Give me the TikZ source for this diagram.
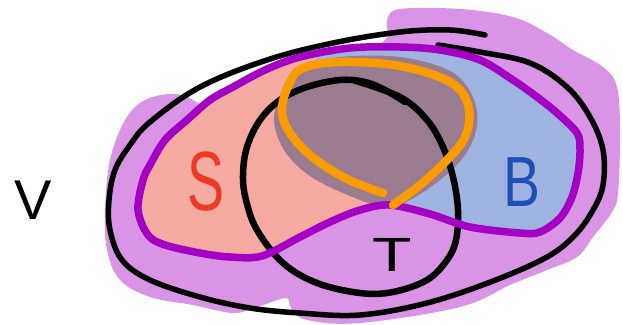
\documentclass[tikz,border=0pt]{standalone}
\usepackage{fontspec}
\setmainfont{Liberation Sans}
\definecolor{lav}{HTML}{D994E6}
\definecolor{salmon}{HTML}{F5AAA2}
\definecolor{bfill}{HTML}{9EB3DF}
\definecolor{mauve}{HTML}{9A7B8F}
\definecolor{pline}{HTML}{A300C4}
\definecolor{oline}{HTML}{F89C00}
\definecolor{sred}{HTML}{EE3A24}
\definecolor{bblue}{HTML}{1F4FB4}
\tikzset{
  ink/.style={line width=5.5pt, line cap=round, line join=round},
  letter/.style={inner sep=0pt, anchor=center},
}
\begin{document}
\begin{tikzpicture}[x=1pt,y=-1pt]
\useasboundingbox (0,0) rectangle (623,324);
% lavender blob
\fill[lav] plot[smooth cycle, tension=0.6] coordinates {
 (385,40) (387,20) (400,9) (460,9) (513,17) (547,33) (573,50) (603,67) (617,87)
 (620,133) (618,193) (612,212) (593,237) (577,257) (547,270) (510,285) (460,307)
 (360,323) (307,320) (291,308) (286,298) (257,307) (233,313) (193,305) (150,297)
 (120,280) (107,250) (105,210) (110,160) (125,120) (145,100) (175,94) (198,103)
 (215,120) (250,105) (300,75) (350,58)};
% S fill
\fill[salmon] plot[smooth cycle, tension=0.5] coordinates {
 (142,200) (150,165) (187,120) (233,87) (300,57) (335,52) (370,100) (392,160)
 (396,205) (360,210) (300,237) (262,256) (200,253) (152,240)};
% B fill
\fill[bfill] plot[smooth cycle, tension=0.5] coordinates {
 (320,52) (400,45) (480,58) (537,95) (577,133) (581,165) (573,200) (545,232)
 (470,228) (430,215) (395,208) (370,170) (330,100)};
% overlap
\fill[mauve] plot[smooth cycle, tension=0.6] coordinates {
 (274,118) (285,85) (305,66) (340,57) (400,57) (450,71) (472,95) (477,125)
 (465,155) (440,180) (410,200) (388,208) (350,196) (310,176) (284,150)};
% outer black curve
\draw[ink] plot[smooth, tension=0.6] coordinates {
 (438,45) (480,52) (530,63) (567,87) (590,117) (603,150) (603,185) (593,210)
 (575,235) (547,257) (493,281) (427,303) (360,315) (300,313) (250,308) (200,297)
 (150,280) (122,260) (110,230) (109,200) (115,170) (130,145) (150,122) (200,87)
 (267,60) (333,43) (400,32) (450,30) (485,35)};
% T circle
\draw[ink, line width=6.5pt] plot[smooth, tension=0.6] coordinates {
 (353,80) (400,97) (427,120) (443,147) (453,177) (458,210) (456,240) (447,260)
 (427,280) (393,292) (360,293) (317,283) (283,263) (257,230) (246,200) (243,175)
 (247,147) (260,120) (280,100) (307,87) (340,80) (365,82) (385,90) (405,102)};
% purple outline
\draw[pline, line width=7.5pt, line join=round] plot[smooth cycle, tension=0.55] coordinates {
 (143,180) (150,165) (165,140) (187,120) (210,100) (233,87) (265,70) (300,57)
 (350,48) (400,47) (440,50) (480,60) (513,80) (537,97) (557,113) (577,133)
 (580,150) (578,173) (572,197) (560,218) (540,232) (520,233) (470,227) (430,214)
 (390,205) (360,210) (330,222) (300,237) (262,256) (230,257) (200,253) (165,245)
 (148,235) (138,210)};
% orange outline
\draw[oline, line width=8.5pt, line cap=round, line join=round] plot[smooth, tension=0.6] coordinates {
 (383,193) (345,178) (310,155) (288,130) (282,108) (290,82) (303,68) (340,62)
 (400,66) (450,82) (468,105) (466,135) (447,160) (420,185) (393,205)};
% letters
\node[letter, text=black, font=\fontsize{56}{56}\selectfont] (v) at (33,200) {V};
\node[letter, text=sred, font=\fontsize{84}{84}\selectfont] (s) at (206,182) {\scalebox{0.66}[1]{S}};
\node[letter, text=bblue, font=\fontsize{71}{71}\selectfont] (b) at (522,182) {\scalebox{0.78}[1]{B}};
\node[letter, text=black, font=\fontsize{48}{48}\selectfont] (t) at (392,255) {\scalebox{1.35}[1]{T}};
\end{tikzpicture}
\end{document}
